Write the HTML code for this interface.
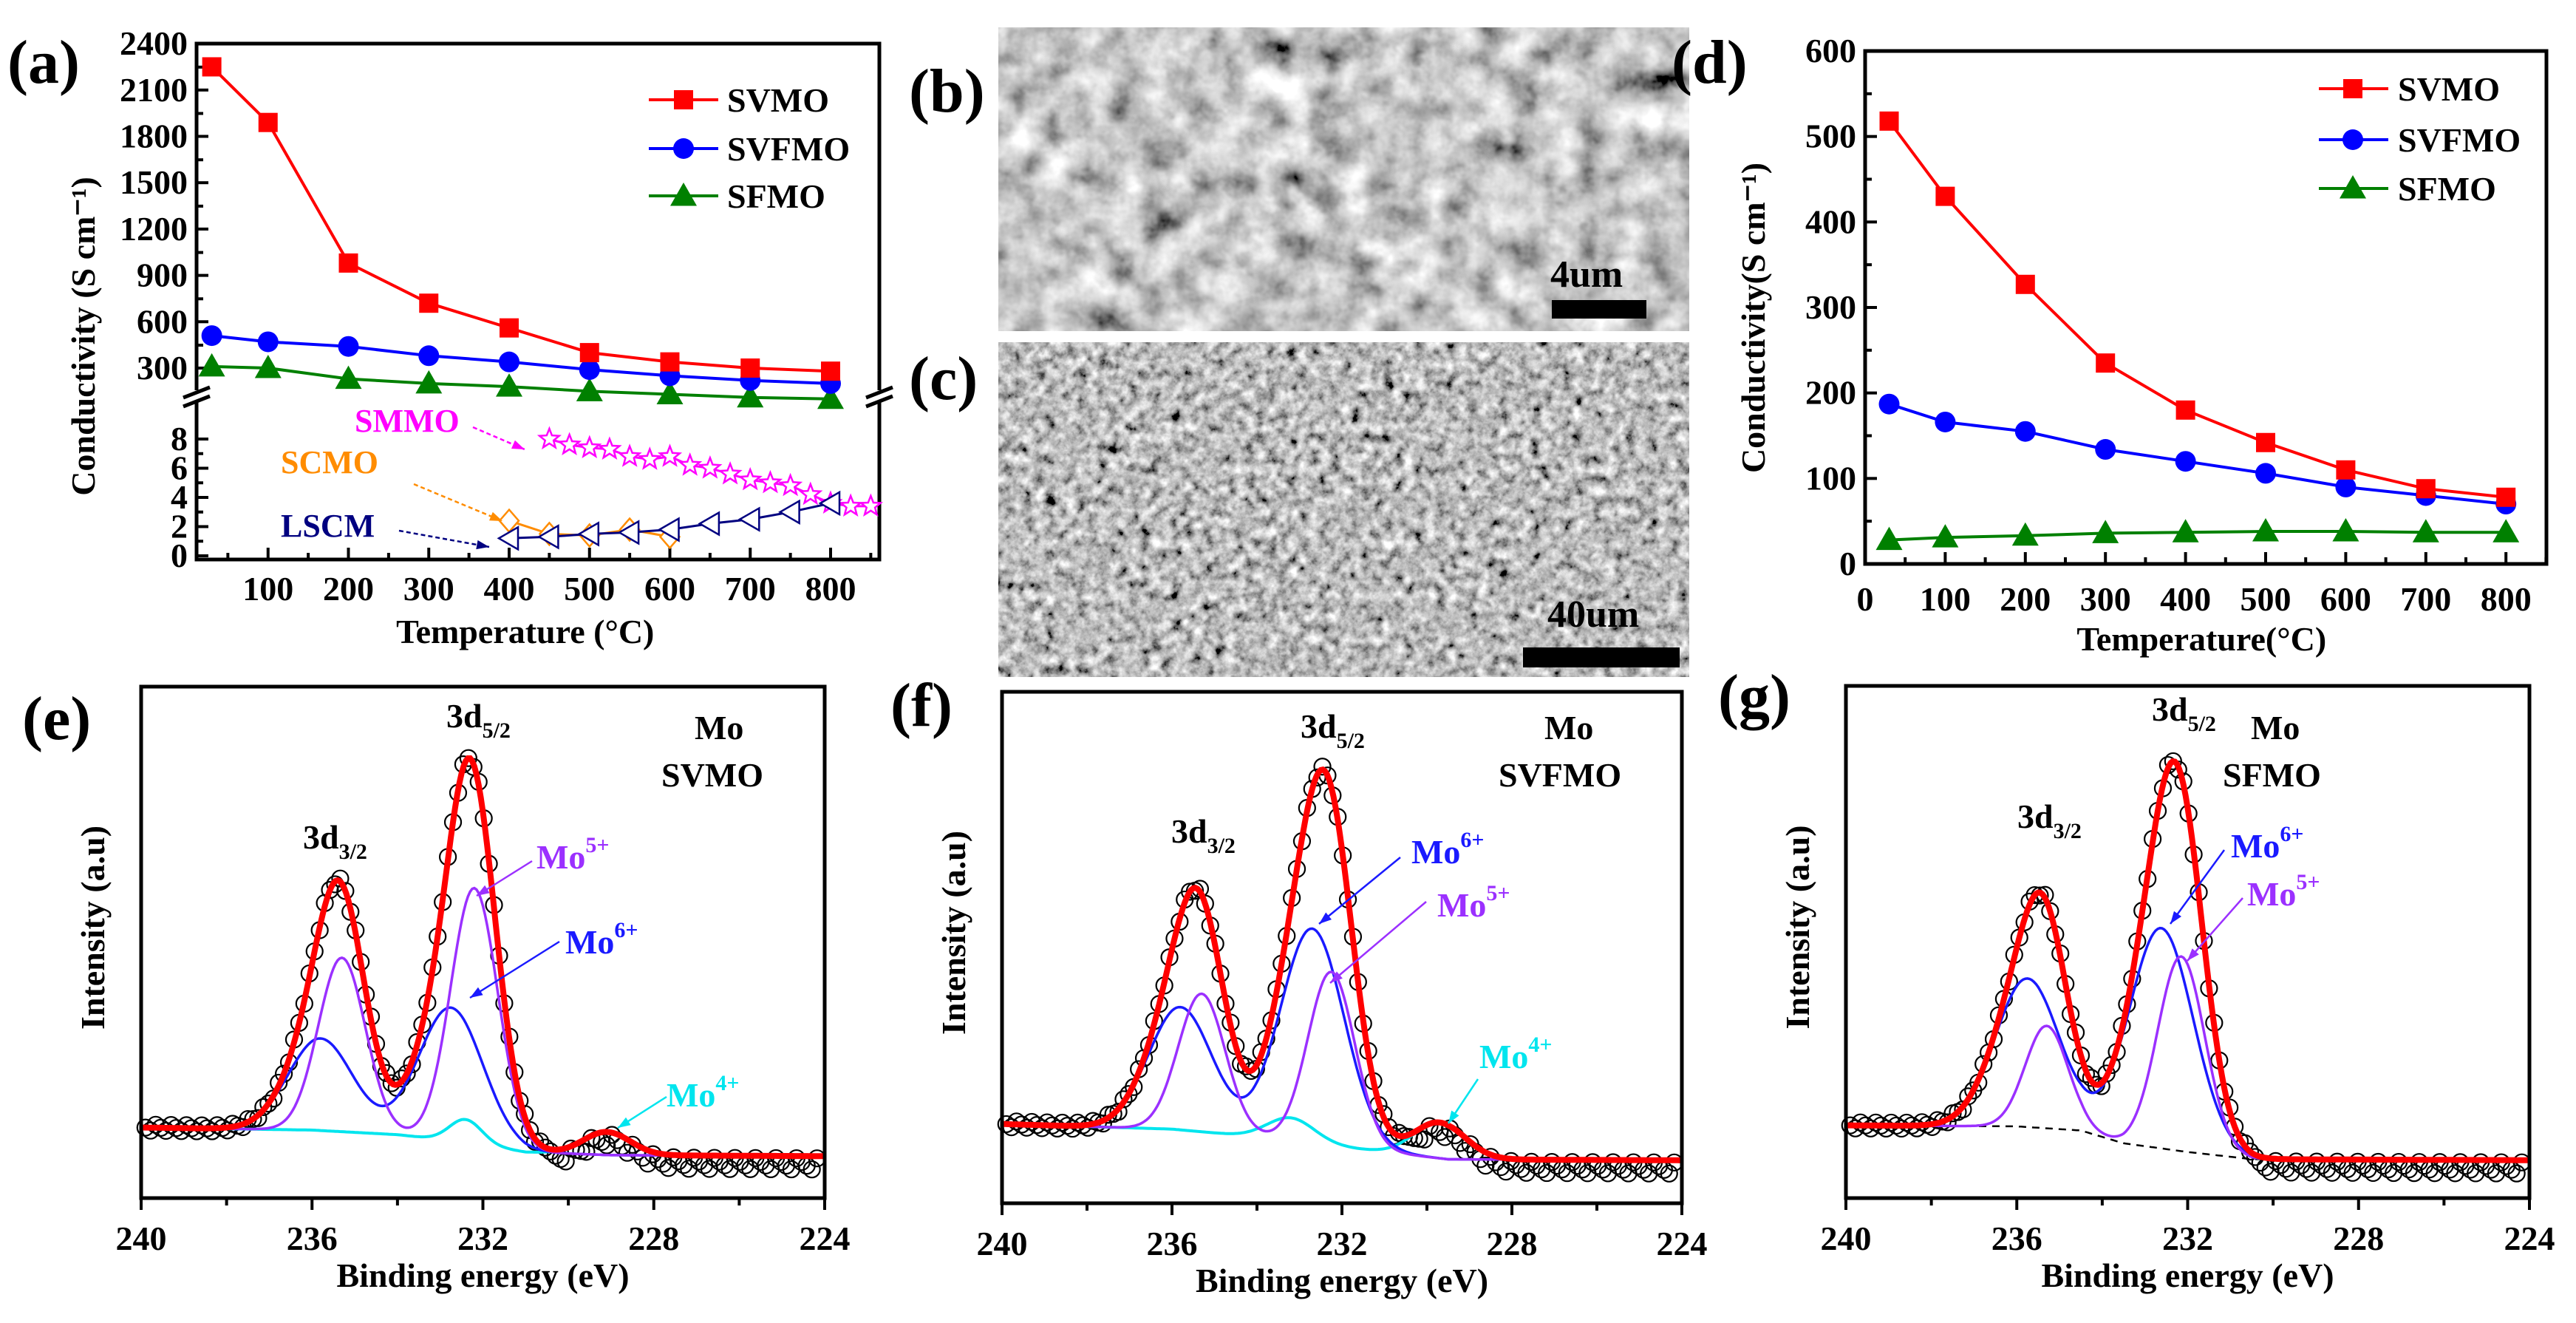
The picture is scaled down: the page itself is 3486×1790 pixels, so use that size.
<!DOCTYPE html>
<html><head><meta charset="utf-8"><style>
html,body{margin:0;padding:0;background:#fff;}
svg{display:block;}
text{font-family:"Liberation Serif",serif;font-weight:bold;}
</style></head><body>
<svg id="fig" width="3486" height="1790" viewBox="0 0 3486 1790" xmlns="http://www.w3.org/2000/svg">
<defs>
<filter id="semB" x="0" y="0" width="100%" height="100%">
<feTurbulence type="fractalNoise" baseFrequency="0.022" numOctaves="4" seed="3"/>
<feColorMatrix type="matrix" values="0.75 0.75 0.75 0 -0.56  0.75 0.75 0.75 0 -0.56  0.75 0.75 0.75 0 -0.56  0 0 0 0 1"/>
</filter>
<filter id="semC" x="0" y="0" width="100%" height="100%">
<feTurbulence type="fractalNoise" baseFrequency="0.07" numOctaves="4" seed="7"/>
<feColorMatrix type="matrix" values="0.85 0.85 0.85 0 -0.78  0.85 0.85 0.85 0 -0.78  0.85 0.85 0.85 0 -0.78  0 0 0 0 1"/>
</filter>
</defs>
<rect x="0" y="0" width="3486" height="1790" fill="#fff"/>
<g>
<rect x="1351" y="37" width="935" height="411" fill="#9a9a9a" filter="url(#semB)"/>
<text x="2098" y="388" font-size="52" fill="#000">4um</text>
<rect x="2100" y="406" width="128" height="25" fill="#000"/>
</g>
<g>
<rect x="1351" y="463" width="935" height="453" fill="#888" filter="url(#semC)"/>
<text x="2094" y="848" font-size="52" fill="#000">40um</text>
<rect x="2061" y="876" width="212" height="27" fill="#000"/>
</g>
<text x="1230" y="151" font-size="84">(b)</text>
<text x="1230" y="540" font-size="84">(c)</text>
<text x="10" y="112" font-size="84">(a)</text>
<text x="2262" y="112" font-size="84">(d)</text>
<text x="30" y="1000" font-size="84">(e)</text>
<text x="1205" y="982" font-size="84">(f)</text>
<text x="2325" y="970" font-size="84">(g)</text>
</svg>
<script>
// ---------- Panel (a) data ----------
const aTemps=[30,100,200,300,400,500,600,700,800];
const aSVMO=[2250,1890,980,720,560,400,340,300,280];
const aSVFMO=[510,470,440,380,340,290,250,220,200];
const aSFMO=[310,300,230,200,180,150,130,110,100];
const aSMMOx=[450,475,500,525,550,575,600,625,650,675,700,725,750,775,800,825,850];
const aSMMOy=[8.0,7.6,7.4,7.3,6.8,6.6,6.8,6.2,6.0,5.6,5.2,5.0,4.8,4.2,3.6,3.4,3.4];
const aSCMOx=[400,450,500,550,600];
const aSCMOy=[2.4,1.5,1.4,1.8,1.3];
const aLSCMx=[400,450,500,550,600,650,700,750,800];
const aLSCMy=[1.2,1.3,1.5,1.6,1.8,2.2,2.5,3.0,3.6];
const aUpperTicks=[300,600,900,1200,1500,1800,2100,2400];
const aLowerTicks=[0,2,4,6,8];
const aXTicks=[100,200,300,400,500,600,700,800];
// ---------- Panel (d) data ----------
const dTemps=[30,100,200,300,400,500,600,700,800];
const dSVMO=[518,430,327,235,180,142,110,88,78];
const dSVFMO=[187,166,155,134,120,106,90,80,70];
const dSFMO=[28,31,33,36,37,38,38,37,37];
const dYTicks=[0,100,200,300,400,500,600];
const dXTicks=[0,100,200,300,400,500,600,700,800];
// ---------- XPS data (peak parameters: centre eV, height %, sigma eV) ----------
const xTicks=[240,236,232,228,224];
const eBgE=[240,236,234,232.5,231,229,224];
const eBgV=[13.8,13.3,12.4,11,9,8.4,8.2];
const eMo5C=[235.3,232.2], eMo5H=[34,50], eMo5S=[0.55,0.55];
const eMo6C=[235.8,232.75], eMo6H=[18,26], eMo6S=[0.75,0.75];
const eMo4C=[232.4,229.1], eMo4H=[4.5,4.5], eMo4S=[0.38,0.55];
const fBgE=[240,236,234,232.5,231,229.5,224];
const fBgV=[15.5,14.5,13,11.5,10,8.6,8.4];
const fMo5C=[235.3,232.25], fMo5H=[27,34], fMo5S=[0.55,0.55];
const fMo6C=[235.8,232.7], fMo6H=[24,42], fMo6S=[0.75,0.75];
const fMo4C=[233.2,229.7], fMo4H=[4.5,7], fMo4S=[0.55,0.6];
const gBgE=[240,236,234.5,233.5,232,230.5,224];
const gBgV=[14.2,14,13.2,10.7,9,7.6,7.4];
const gMo5C=[235.3,232.15], gMo5H=[20,38], gMo5S=[0.5,0.55];
const gMo6C=[235.75,232.62], gMo6H=[29,43], gMo6S=[0.75,0.75];

const NS='http://www.w3.org/2000/svg';
const svg=document.getElementById('fig');
function mk(tag,attrs,parent){const el=document.createElementNS(NS,tag);for(const k in attrs)el.setAttribute(k,attrs[k]);(parent||svg).appendChild(el);return el;}
function txt(s,x,y,size,anchor,fill,parent){const t=mk('text',{x:x,y:y,'font-size':size,'text-anchor':anchor||'start',fill:fill||'#000'},parent);t.textContent=s;return t;}
function poly(pts){return pts.map(p=>p[0].toFixed(1)+','+p[1].toFixed(1)).join(' ');}
function square(g,x,y,s,c){return mk('rect',{x:x-s/2,y:y-s/2,width:s,height:s,fill:c},g);}
function circ(g,x,y,r,c){return mk('circle',{cx:x,cy:y,r:r,fill:c},g);}
function tri(g,x,y,s,c){return mk('polygon',{points:poly([[x,y-s*0.6],[x-s*0.6,y+s*0.45],[x+s*0.6,y+s*0.45]]),fill:c},g);}

// ===== Panel (a) =====
const ax=v=>254+v*1.0875;
const ayU=v=>498-(v-300)*62.7/300;
const ayL=v=>752-v*19.75;
const A={l:266,r:1190,t:59,b:757};
const ga=mk('g',{});


mk('rect',{x:A.l,y:A.t,width:A.r-A.l,height:A.b-A.t,fill:'none',stroke:'#000','stroke-width':5},ga);
[A.l,A.r].forEach(bx=>{
  mk('rect',{x:bx-16,y:528,width:32,height:16,fill:'#fff'},ga);
  const b1=mk('line',{x1:bx-18,y1:538,x2:bx+18,y2:524,stroke:'#000','stroke-width':5},ga);
  
  
  mk('line',{x1:bx-18,y1:550,x2:bx+18,y2:536,stroke:'#000','stroke-width':5},ga);
});
aUpperTicks.forEach(v=>{
  const y=ayU(v);
  mk('line',{x1:A.l,y1:y,x2:A.l+16,y2:y,stroke:'#000','stroke-width':4},ga);
  if(v<2400)mk('line',{x1:A.l,y1:y-31,x2:A.l+9,y2:y-31,stroke:'#000','stroke-width':4},ga);
  const t=txt(String(v),A.l-12,y+15,46,'end','#000',ga);
  
  
});
aLowerTicks.forEach(v=>{
  const y=ayL(v);
  mk('line',{x1:A.l,y1:y,x2:A.l+16,y2:y,stroke:'#000','stroke-width':4},ga);
  if(v<8)mk('line',{x1:A.l,y1:ayL(v+1),x2:A.l+9,y2:ayL(v+1),stroke:'#000','stroke-width':4},ga);
  const t=txt(String(v),A.l-12,y+15,46,'end','#000',ga);
  
  
});
aXTicks.forEach(v=>{
  const x=ax(v);
  mk('line',{x1:x,y1:A.b,x2:x,y2:A.b-16,stroke:'#000','stroke-width':4},ga);
  mk('line',{x1:ax(v-50),y1:A.b,x2:ax(v-50),y2:A.b-9,stroke:'#000','stroke-width':4},ga);
  const t=txt(String(v),x,812,46,'middle','#000',ga);
  
  
});
mk('line',{x1:ax(850),y1:A.b,x2:ax(850),y2:A.b-9,stroke:'#000','stroke-width':4},ga);
const axt=txt('Temperature (°C)',ax(420),870,46,'middle','#000',ga);


const ayt=txt('Conductivity (S cm⁻¹)',0,0,46,'middle','#000',ga);
ayt.setAttribute('transform','translate(128,455) rotate(-90)');


function seriesA(xs,ys,yf,color,marker,name){
  const g=mk('g',{},ga);
  
  
  mk('polyline',{points:poly(xs.map((x,i)=>[ax(x),yf(ys[i])])),fill:'none',stroke:color,'stroke-width':4},g);
  xs.forEach((x,i)=>marker(g,ax(x),yf(ys[i]),color));
}
seriesA(aTemps,aSFMO,ayU,'#008000',(g,x,y,c)=>tri(g,x,y,30,c),'series-sfmo');
seriesA(aTemps,aSVFMO,ayU,'#0000ff',(g,x,y,c)=>circ(g,x,y,14,c),'series-svfmo');
seriesA(aTemps,aSVMO,ayU,'#ff0000',(g,x,y,c)=>square(g,x,y,26,c),'series-svmo');
(function(){
  const g=mk('g',{},ga);
  
  
  mk('polyline',{points:poly(aSMMOx.map((x,i)=>[ax(x),ayL(aSMMOy[i])])),fill:'none',stroke:'#ff00ff','stroke-width':3},g);
  aSMMOx.forEach((x,i)=>{const cx=ax(x),cy=ayL(aSMMOy[i]);const p=[];for(let k=0;k<10;k++){const r=k%2?6:14;const a=-Math.PI/2+k*Math.PI/5;p.push([cx+r*Math.cos(a),cy+r*Math.sin(a)]);}mk('polygon',{points:poly(p),fill:'#fff',stroke:'#ff00ff','stroke-width':2.5},g);});
  const g2=mk('g',{},ga);
  
  
  mk('polyline',{points:poly(aSCMOx.map((x,i)=>[ax(x),ayL(aSCMOy[i])])),fill:'none',stroke:'#ff8c00','stroke-width':3},g2);
  aSCMOx.forEach((x,i)=>{const cx=ax(x),cy=ayL(aSCMOy[i]);mk('polygon',{points:poly([[cx,cy-15],[cx+13,cy],[cx,cy+15],[cx-13,cy]]),fill:'#fff',stroke:'#ff8c00','stroke-width':2.5},g2);});
  const g3=mk('g',{},ga);
  
  
  mk('polyline',{points:poly(aLSCMx.map((x,i)=>[ax(x),ayL(aLSCMy[i])])),fill:'none',stroke:'#000080','stroke-width':3},g3);
  aLSCMx.forEach((x,i)=>{const cx=ax(x),cy=ayL(aLSCMy[i]);mk('polygon',{points:poly([[cx-14,cy],[cx+12,cy-15],[cx+12,cy+15]]),fill:'#fff',stroke:'#000080','stroke-width':2.5},g3);});
})();
[['SMMO','#ff00ff',480,584,640,578,710,608],['SCMO','#ff8c00',380,640,560,655,680,705],['LSCM','#000080',380,726,540,718,662,740]].forEach(a=>{
  const t=txt(a[0],a[2],a[3],44,'start',a[1],ga);
  
  
  mk('line',{x1:a[4],y1:a[5],x2:a[6],y2:a[7],stroke:a[1],'stroke-width':2.5,'stroke-dasharray':'6,4'},ga);
  const ang=Math.atan2(a[7]-a[5],a[6]-a[4]);
  mk('polygon',{points:poly([[a[6],a[7]],[a[6]-18*Math.cos(ang-0.35),a[7]-18*Math.sin(ang-0.35)],[a[6]-18*Math.cos(ang+0.35),a[7]-18*Math.sin(ang+0.35)]]),fill:a[1]},ga);
});
[['SVMO','#ff0000',135,'s'],['SVFMO','#0000ff',201,'c'],['SFMO','#008000',265,'t']].forEach(l=>{
  const g=mk('g',{},ga);
  
  
  mk('line',{x1:878,y1:l[2],x2:972,y2:l[2],stroke:l[1],'stroke-width':4},g);
  if(l[3]=='s')square(g,925,l[2],26,l[1]);else if(l[3]=='c')circ(g,925,l[2],14,l[1]);else tri(g,925,l[2],30,l[1]);
  txt(l[0],984,l[2]+16,46,'start','#000',g);
});

// ===== Panel (d) =====
const dx=v=>2524+v*1.084;
const dy=v=>763-v*694/600;
const D={l:2524,r:3446,t:69,b:763};
const gd=mk('g',{});


mk('rect',{x:D.l,y:D.t,width:D.r-D.l,height:D.b-D.t,fill:'none',stroke:'#000','stroke-width':5},gd);
dYTicks.forEach(v=>{
  const y=dy(v);
  mk('line',{x1:D.l,y1:y,x2:D.l+16,y2:y,stroke:'#000','stroke-width':4},gd);
  if(v<600)mk('line',{x1:D.l,y1:dy(v+50),x2:D.l+9,y2:dy(v+50),stroke:'#000','stroke-width':4},gd);
  const t=txt(String(v),D.l-12,y+15,46,'end','#000',gd);
  
  
});
dXTicks.forEach(v=>{
  const x=dx(v);
  mk('line',{x1:x,y1:D.b,x2:x,y2:D.b-16,stroke:'#000','stroke-width':4},gd);
  mk('line',{x1:dx(v+50),y1:D.b,x2:dx(v+50),y2:D.b-9,stroke:'#000','stroke-width':4},gd);
  const t=txt(String(v),x,826,46,'middle','#000',gd);
  
  
});
const dxt=txt('Temperature(°C)',dx(420),880,46,'middle','#000',gd);


const dyt=txt('Conductivity(S cm⁻¹)',0,0,46,'middle','#000',gd);
dyt.setAttribute('transform','translate(2388,430) rotate(-90)');


function seriesD(ys,color,marker,name){
  const g=mk('g',{},gd);
  
  
  mk('polyline',{points:poly(dTemps.map((x,i)=>[dx(x),dy(ys[i])])),fill:'none',stroke:color,'stroke-width':4},g);
  dTemps.forEach((x,i)=>marker(g,dx(x),dy(ys[i]),color));
}
seriesD(dSFMO,'#008000',(g,x,y,c)=>tri(g,x,y,30,c),'series-sfmo');
seriesD(dSVFMO,'#0000ff',(g,x,y,c)=>circ(g,x,y,14,c),'series-svfmo');
seriesD(dSVMO,'#ff0000',(g,x,y,c)=>square(g,x,y,26,c),'series-svmo');
[['SVMO','#ff0000',120,'s'],['SVFMO','#0000ff',189,'c'],['SFMO','#008000',255,'t']].forEach(l=>{
  const g=mk('g',{},gd);
  
  
  mk('line',{x1:3138,y1:l[2],x2:3232,y2:l[2],stroke:l[1],'stroke-width':4},g);
  if(l[3]=='s')square(g,3184,l[2],26,l[1]);else if(l[3]=='c')circ(g,3184,l[2],14,l[1]);else tri(g,3184,l[2],30,l[1]);
  txt(l[0],3245,l[2]+16,46,'start','#000',g);
});

// ===== XPS panels =====
function interp(E,V,e){for(let i=0;i<E.length-1;i++){if(e<=E[i]&&e>=E[i+1]){const t=(E[i]-e)/(E[i]-E[i+1]);return V[i]+t*(V[i+1]-V[i]);}}return V[V.length-1];}
function peaks(C,H,S,e){let s=0;for(let i=0;i<C.length;i++)s+=H[i]*Math.exp(-((e-C[i])**2)/(2*S[i]*S[i]));return s;}
function xpsPanel(P){
  const g=mk('g',{});
  
  
  const X=e=>P.l+(240-e)*(P.r-P.l)/16;
  const Y=v=>P.b-v*(P.b-P.t)/100;
  const es=[];for(let e=240;e>=224-1e-9;e-=0.05)es.push(e);
  const bg=e=>interp(P.bgE,P.bgV,e);
  const env=e=>bg(e)+P.comps.reduce((s,c)=>s+peaks(c.C,c.H,c.S,e),0);
  const dg=mk('g',{},g);
  
  
  let k=0;
  for(let e=239.9;e>=224.1;e-=0.12){k++;const off=e<230.5?((k%4)*5+3):((k%3)-1)*4;mk('circle',{cx:X(e),cy:Y(env(e))+off,r:11,fill:'none',stroke:'#000','stroke-width':2.2},dg);}
  if(P.dashedBg){const b=mk('polyline',{points:poly(es.map(e=>[X(e),Y(bg(e))])),fill:'none',stroke:'#000','stroke-width':2.5,'stroke-dasharray':'10,8'},g);
    
    }
  P.comps.forEach(c=>{
    const l=mk('polyline',{points:poly(es.map(e=>[X(e),Y(bg(e)+peaks(c.C,c.H,c.S,e))])),fill:'none',stroke:c.color,'stroke-width':c.w||3.5},g);
    
    
  });
  const en=mk('polyline',{points:poly(es.map(e=>[X(e),Y(env(e))])),fill:'none',stroke:'#ff0000','stroke-width':8},g);
  
  
  mk('rect',{x:P.l,y:P.t,width:P.r-P.l,height:P.b-P.t,fill:'none',stroke:'#000','stroke-width':5},g);
  for(let e=240;e>=224;e-=2){mk('line',{x1:X(e),y1:P.b,x2:X(e),y2:P.b+(e%4==0?16:10),stroke:'#000','stroke-width':4},g);}
  xTicks.forEach(v=>{const t=txt(String(v),X(v),P.b+70,46,'middle','#000',g);
    
    });
  const xt=txt('Binding energy (eV)',(P.l+P.r)/2,P.b+120,46,'middle','#000',g);
  
  
  const yt=txt('Intensity (a.u)',0,0,46,'middle','#000',g);
  yt.setAttribute('transform','translate('+(P.l-50)+','+((P.t+P.b)/2-20)+') rotate(-90)');
  
  
  P.labels.forEach(L=>{
    const t=mk('text',{x:L[1],y:L[2],'font-size':46,fill:L[3]},g);
    t.textContent=L[0];
    if(L[4]){const s=mk('tspan',{'font-size':30,dy:L[5]},t);s.textContent=L[4];}
    
    
  });
  P.arrows.forEach(a=>{
    mk('line',{x1:a[0],y1:a[1],x2:a[2],y2:a[3],stroke:a[4],'stroke-width':2.5},g);
    const ang=Math.atan2(a[3]-a[1],a[2]-a[0]);
    mk('polygon',{points:poly([[a[2],a[3]],[a[2]-18*Math.cos(ang-0.35),a[3]-18*Math.sin(ang-0.35)],[a[2]-18*Math.cos(ang+0.35),a[3]-18*Math.sin(ang+0.35)]]),fill:a[4]},g);
  });
}
xpsPanel({name:'xps-chart-e',l:191,r:1116,t:929,b:1621,bgE:eBgE,bgV:eBgV,
 comps:[{C:eMo4C,H:eMo4H,S:eMo4S,color:'#00e5ee',name:'mo4-component',w:4},{C:eMo6C,H:eMo6H,S:eMo6S,color:'#1a1aff',name:'mo6-component'},{C:eMo5C,H:eMo5H,S:eMo5S,color:'#9b30ff',name:'mo5-component'}],
 labels:[['3d',410,1148,'#000','3/2',14],['3d',604,984,'#000','5/2',14],['Mo',940,1000,'#000'],['SVMO',895,1064,'#000'],['Mo',726,1175,'#9b30ff','5+',-22],['Mo',765,1290,'#1a1aff','6+',-22],['Mo',902,1497,'#00e5ee','4+',-22]],
 arrows:[[720,1165,645,1212,'#9b30ff'],[757,1274,636,1350,'#1a1aff'],[902,1484,836,1526,'#00e5ee']]});
xpsPanel({name:'xps-chart-f',l:1356,r:2276,t:936,b:1628,bgE:fBgE,bgV:fBgV,
 comps:[{C:fMo4C,H:fMo4H,S:fMo4S,color:'#00e5ee',name:'mo4-component',w:4},{C:fMo6C,H:fMo6H,S:fMo6S,color:'#1a1aff',name:'mo6-component'},{C:fMo5C,H:fMo5H,S:fMo5S,color:'#9b30ff',name:'mo5-component'}],
 labels:[['3d',1585,1140,'#000','3/2',14],['3d',1760,998,'#000','5/2',14],['Mo',2090,1000,'#000'],['SVFMO',2028,1064,'#000'],['Mo',1910,1168,'#1a1aff','6+',-22],['Mo',1945,1240,'#9b30ff','5+',-22],['Mo',2002,1445,'#00e5ee','4+',-22]],
 arrows:[[1895,1160,1785,1250,'#1a1aff'],[1930,1220,1800,1330,'#9b30ff'],[2000,1460,1960,1520,'#00e5ee']]});
xpsPanel({name:'xps-chart-g',l:2498,r:3423,t:928,b:1621,bgE:gBgE,bgV:gBgV,dashedBg:true,
 comps:[{C:gMo6C,H:gMo6H,S:gMo6S,color:'#1a1aff',name:'mo6-component'},{C:gMo5C,H:gMo5H,S:gMo5S,color:'#9b30ff',name:'mo5-component'}],
 labels:[['3d',2730,1120,'#000','3/2',14],['3d',2912,975,'#000','5/2',14],['Mo',3046,1000,'#000'],['SFMO',3008,1064,'#000'],['Mo',3019,1160,'#1a1aff','6+',-22],['Mo',3041,1225,'#9b30ff','5+',-22]],
 arrows:[[3010,1150,2937,1250,'#1a1aff'],[3035,1215,2960,1300,'#9b30ff']]});
</script>
</body></html>
